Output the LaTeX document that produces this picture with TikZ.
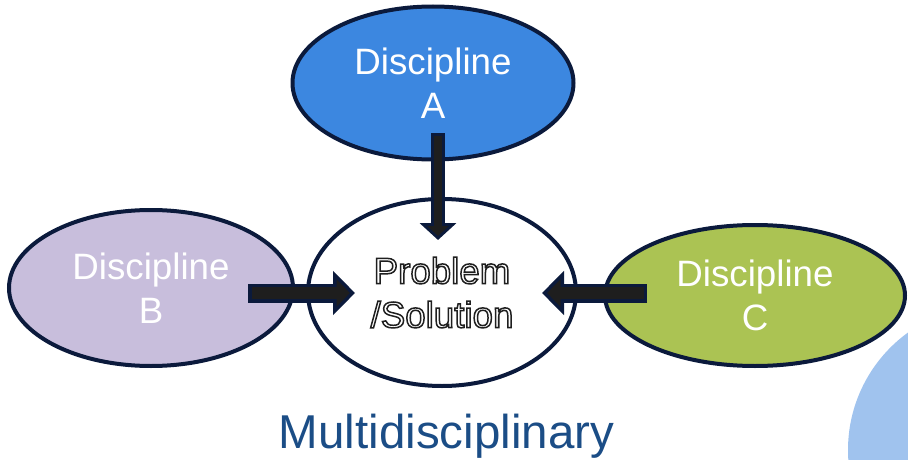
\documentclass[tikz,border=0pt]{standalone}
\usepackage{fontspec}
\setmainfont{Liberation Sans}
\usetikzlibrary{shapes.geometric,arrows.meta}
\definecolor{navy}{HTML}{0B1A3C}
\definecolor{darkfill}{HTML}{1E1E1E}
\definecolor{fillA}{HTML}{3C87E0}
\definecolor{fillB}{HTML}{C8BEDC}
\definecolor{fillC}{HTML}{ABC353}
\definecolor{circ}{HTML}{A0C3EE}
\definecolor{titleblue}{HTML}{1B4D86}
\newcommand\outlinetext[1]{\special{pdf:literal direct 2 Tr 1.5 w 0.12 0.12 0.12 RG 1 1 1 rg}#1\special{pdf:literal direct 0 Tr}}
\tikzset{
  disc/.style={ellipse, draw=navy, line width=4pt, inner sep=0pt, text=white,
    align=center, font=\fontsize{36.7}{44}\selectfont},
  hout/.style={draw=navy, line width=19pt, -{Triangle[length=22pt,width=43pt]}},
  hin/.style={draw=darkfill, line width=12pt, -{Triangle[length=13.5pt,width=26.4pt]},
    shorten <=3.5pt, shorten >=5pt},
  vout/.style={draw=navy, line width=14pt, -{Triangle[length=17pt,width=36pt]}},
  vin/.style={draw=darkfill, line width=8pt, -{Triangle[length=9.9pt,width=21pt]},
    shorten <=3pt, shorten >=4.1pt},
}
\begin{document}
\begin{tikzpicture}[x=1pt,y=1pt]
\useasboundingbox (0,0) rectangle (908,459);
\clip (0,0) rectangle (908,459);
\fill[circ] (993,9) circle (145);
\node[disc, fill=fillA, minimum width=281pt, minimum height=153pt] (A) at (433,376) {Discipline\\A};
\node[disc, fill=fillB, minimum width=284pt, minimum height=156pt] (B) at (151,171) {Discipline\\B};
\node[disc, fill=fillC, minimum width=300pt, minimum height=141pt] (C) at (755,163.5) {Discipline\\C};
\node[disc, fill=white, text=white, minimum width=268pt, minimum height=187pt] (P) at (442,166.5)
  {\outlinetext{Problem}\\\outlinetext{/Solution}};
\coordinate (as) at (438,326);
\coordinate (ae) at (438,219);
\coordinate (bs) at (248,166);
\coordinate (be) at (355,166);
\coordinate (cs) at (647,166);
\coordinate (ce) at (542,166);
\draw[vout] (as) -- (ae);
\draw[vin] (as) -- (ae);
\draw[hout] (bs) -- (be);
\draw[hin] (bs) -- (be);
\draw[hout] (cs) -- (ce);
\draw[hin] (cs) -- (ce);
\node[anchor=base, text=titleblue, font=\fontsize{47.5}{57}\selectfont, inner sep=0pt] (T) at (446.5,11) {Multidisciplinary};
\end{tikzpicture}
\end{document}
